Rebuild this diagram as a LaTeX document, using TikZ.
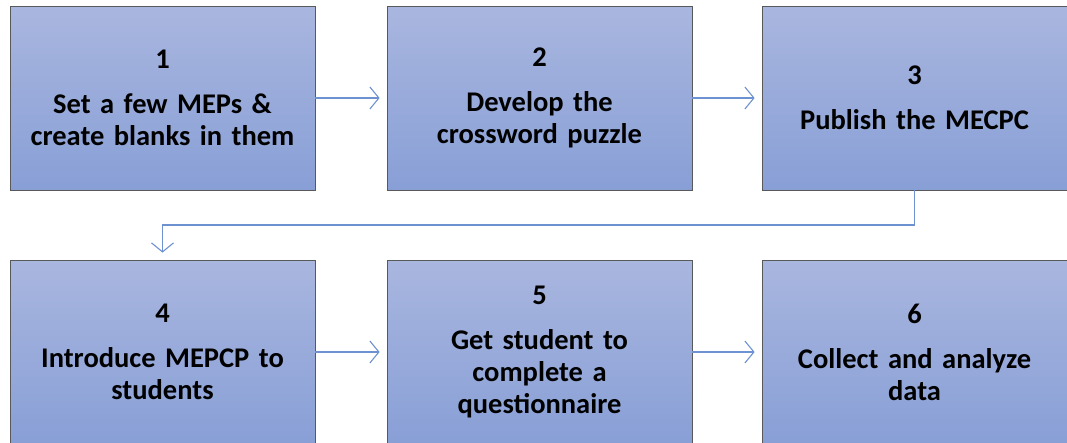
\documentclass[tikz,border=0pt]{standalone}
\usepackage{fontspec}
\setmainfont{Carlito}
\usetikzlibrary{arrows.meta}

\begin{document}
\begin{tikzpicture}[x=1pt, y=-1pt,
        stepbox/.style={draw=black!65, line width=0.8pt, top color=boxtop, bottom color=boxbottom,
            minimum width=305pt, minimum height=184pt, inner sep=0pt, text width=300pt, align=center,
            font=\fontsize{28.5}{32}\selectfont\bfseries},
        flow/.style={draw=arrowblue, line width=1.1pt, -{Straight Barb[length=9pt, width=22pt, line width=1.1pt]}, shorten >=7pt}]
        \definecolor{boxtop}{RGB}{169,182,223}
        \definecolor{boxbottom}{RGB}{136,159,214}
        \definecolor{arrowblue}{RGB}{110,145,210}
        \useasboundingbox (0,0) rectangle (1067,442);

        \node[stepbox] (s1) at (162.5,98) {1\\[13pt]Set a few MEPs \&\\create blanks in them};
        \node[stepbox] (s2) at (539.5,98) {2\\[13pt]Develop the\\crossword puzzle};
        \node[stepbox] (s3) at (914.5,98) {3\\[13pt]Publish the MECPC};
        \node[stepbox] (s4) at (162.5,352) {4\\[13pt]Introduce MEPCP to\\students};
        \node[stepbox] (s5) at (539.5,352) {5\\[13pt]Get student to\\complete a\\questionnaire};
        \node[stepbox] (s6) at (914.5,352) {6\\[13pt]Collect and analyze\\data};

        \coordinate (turn) at (0,225);
        \draw[flow] (s1) -- (s2);
        \draw[flow] (s2) -- (s3);
        \draw[flow] (s3.south) |- (turn -| s4.north) -- (s4.north);
        \draw[flow] (s4) -- (s5);
        \draw[flow] (s5) -- (s6);
\end{tikzpicture}
\end{document}
